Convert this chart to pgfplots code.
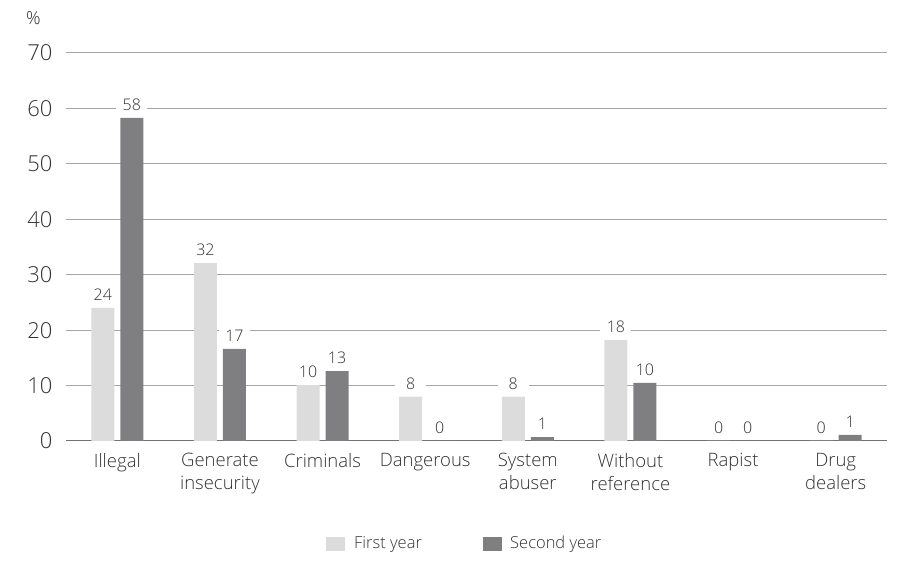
\documentclass[border=0pt]{standalone}
\usepackage{fontspec}
\setmainfont{Open Sans}[UprightFont=* Light]
\usepackage{pgfplots}
\pgfplotsset{compat=1.18}
\definecolor{lightbar}{HTML}{DCDCDD}
\definecolor{darkbar}{HTML}{7F7F82}
\definecolor{txt}{HTML}{333333}
\definecolor{grid}{HTML}{A6A6A6}
\begin{document}
\begin{tikzpicture}[x=1pt,y=1pt]
\path[use as bounding box] (0,0) rectangle (907,561);
\begin{axis}[
  at={(66pt,120pt)}, anchor=south west,
  scale only axis, width=821pt, height=388pt,
  xmin=-0.5, xmax=7.5, ymin=0, ymax=70,
  ytick={0,10,...,70},
  xtick={0,...,7},
  xticklabels={Illegal,Generate\\insecurity,Criminals,Dangerous,System\\abuser,Without\\reference,Rapist,Drug\\dealers},
  xticklabel style={font=\fontsize{18.5}{23}\selectfont, align=center, text=txt, yshift=-9pt},
  yticklabel style={font=\fontsize{22}{24}\selectfont, text=txt, xshift=-10pt},
  /pgf/number format/assume math mode=true,
  major tick length=0pt,
  axis x line*=bottom, axis y line*=left,
  y axis line style={draw=none},
  x axis line style={draw=black!55, line width=1pt},
  ymajorgrids, grid style={draw=grid, line width=1pt},
  ybar, bar width=23pt,
  enlarge x limits=false,
  nodes near coords,
  point meta=explicit symbolic,
  every node near coord/.append style={font=\fontsize{16}{18}\selectfont, text=txt, fill=white, inner xsep=2pt, inner ysep=1pt, minimum width=31pt, yshift=6pt},
  clip=false,
]
\addplot[fill=lightbar, draw=none, bar shift=-14.5pt] coordinates {
  (0,24.0)[24] (1,32.1)[32] (2,10.1)[10] (3,8.0)[8] (4,8.0)[8] (5,18.2)[18] (6,0)[0] (7,0)[0]};
\addplot[fill=darkbar, draw=none, bar shift=14.5pt] coordinates {
  (0,58.3)[58] (1,16.6)[17] (2,12.6)[13] (3,0)[0] (4,0.7)[1] (5,10.5)[10] (6,0)[0] (7,1.1)[1]};
\end{axis}
\node[anchor=base west, font=\fontsize{18}{20}\selectfont, text=txt, inner sep=0pt] at (26,561-25) {\%};
% legend
\fill[lightbar] (326,561-551) rectangle (345,561-537);
\node[anchor=base west, font=\fontsize{16.5}{18}\selectfont, text=txt, inner sep=0pt] at (354,561-549) {First year};
\fill[darkbar] (483,561-551) rectangle (502,561-537);
\node[anchor=base west, font=\fontsize{16.5}{18}\selectfont, text=txt, inner sep=0pt] at (510,561-549) {Second year};
\end{tikzpicture}
\end{document}
